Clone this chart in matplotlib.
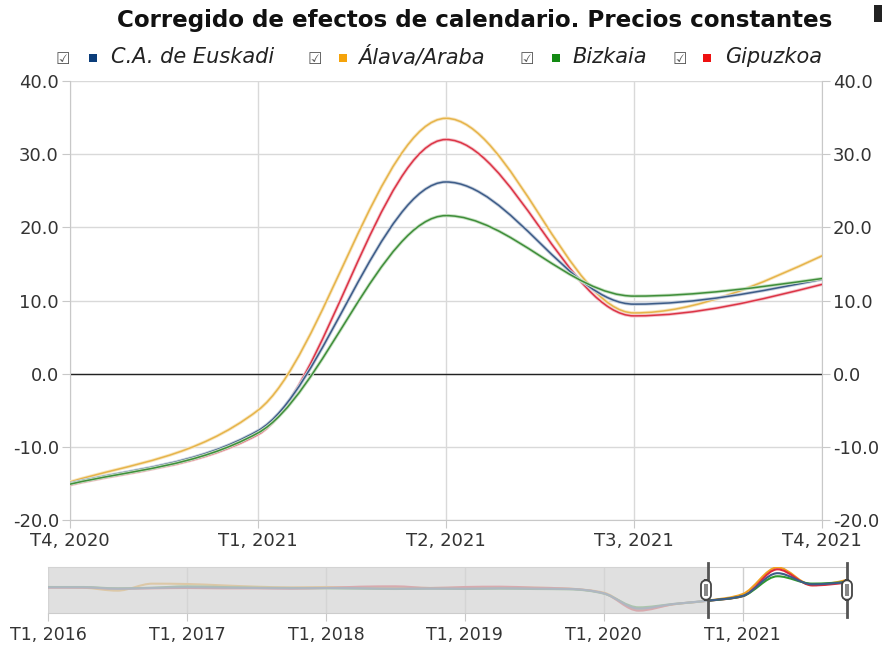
import matplotlib
matplotlib.use("Agg")
import matplotlib.pyplot as plt
from matplotlib.path import Path
from matplotlib.patches import PathPatch, Rectangle, FancyBboxPatch
import matplotlib.patheffects as pe
import numpy as np

plt.rcParams['font.family'] = ['DejaVu Sans']
plt.rcParams['axes.unicode_minus'] = False

# ---------------- data ----------------
quarters = [f"T{q}, {y}" for y in range(2016, 2022) for q in range(1, 5)]
series_names = ["C.A. de Euskadi", "Álava/Araba", "Bizkaia", "Gipuzkoa"]

euskadi = [5.0, 5.0, 3.0, 4.0, 5.0, 4.5, 4.0, 3.5, 4.0, 3.5, 3.0, 3.0,
           3.0, 3.5, 3.0, 2.5, -4.0, -27.0, -20.0, -15.0, -7.8, 26.2, 9.5, 12.9]
alava = [5.5, 4.5, 0.0, 10.5, 10.0, 8.0, 6.0, 5.0, 5.5, 5.0, 5.0, 4.0,
         4.5, 5.0, 4.5, 3.0, -3.0, -28.0, -20.5, -14.8, -5.0, 34.9, 8.3, 16.1]
bizkaia = [5.5, 5.5, 3.5, 4.5, 6.5, 5.5, 4.5, 4.0, 3.5, 3.0, 2.5, 3.0,
           2.5, 3.0, 2.5, 2.0, -4.5, -25.0, -20.0, -15.1, -8.1, 21.6, 10.6, 13.0]
gipuzkoa = [4.5, 4.5, 3.0, 3.5, 4.0, 3.5, 3.5, 3.0, 4.0, 6.0, 6.5, 4.0,
            5.5, 6.0, 4.5, 3.0, -4.0, -30.0, -20.5, -15.2, -8.3, 32.0, 7.9, 12.2]

y_ticks = [-20.0, -10.0, 0.0, 10.0, 20.0, 30.0, 40.0]
main_start, main_end = 19, 23          # T4 2020 .. T4 2021
nav_tick_idx = [0, 4, 8, 12, 16, 20]

legend_colors = ["#0b3d7a", "#f5a30a", "#138a13", "#ee1111"]
line_colors = ["#3d5c88", "#e6b44a", "#3f8e3a", "#dc3446"]
halo_colors = ["#c4cedc", "#f8e6c0", "#c6e0c2", "#f4c4ca"]


def monotone_path(xs, ys):
    """Monotone cubic (d3 curveMonotoneX style) through the points, as a Path."""
    xs = [float(v) for v in xs]
    ys = [float(v) for v in ys]
    n = len(xs)
    sgn = lambda v: -1.0 if v < 0 else 1.0
    m = [0.0] * n
    for i in range(1, n - 1):
        h0 = xs[i] - xs[i - 1]
        h1 = xs[i + 1] - xs[i]
        s0 = (ys[i] - ys[i - 1]) / h0
        s1 = (ys[i + 1] - ys[i]) / h1
        p = (s0 * h1 + s1 * h0) / (h0 + h1)
        m[i] = (sgn(s0) + sgn(s1)) * min(abs(s0), abs(s1), 0.5 * abs(p))
    h = xs[1] - xs[0]
    m[0] = (3 * (ys[1] - ys[0]) / h - m[1]) / 2
    h = xs[-1] - xs[-2]
    m[-1] = (3 * (ys[-1] - ys[-2]) / h - m[-2]) / 2
    verts = [(xs[0], ys[0])]
    codes = [Path.MOVETO]
    for i in range(n - 1):
        dx = (xs[i + 1] - xs[i]) / 3
        verts += [(xs[i] + dx, ys[i] + dx * m[i]),
                  (xs[i + 1] - dx, ys[i + 1] - dx * m[i + 1]),
                  (xs[i + 1], ys[i + 1])]
        codes += [Path.CURVE4] * 3
    return Path(verts, codes)


W, H = 882, 647
fig = plt.figure(figsize=(W / 100, H / 100), dpi=100)

def fx(px):
    return px / W

def fy(py):
    return 1 - py / H

all_series = [euskadi, alava, bizkaia, gipuzkoa]
xs = list(range(len(quarters)))

# ---------------- main chart ----------------
ax = fig.add_axes([fx(70), fy(520), fx(822) - fx(70), fy(81) - fy(520)])
ax.set_xlim(main_start, main_end)
ax.set_ylim(-20, 40)
ax.set_yticks(y_ticks)
ax.set_yticklabels([f"{v:.1f}" for v in y_ticks])
ax.set_xticks(range(main_start, main_end + 1))
ax.set_xticklabels(quarters[main_start:main_end + 1])
ax.grid(True, color="#d9d9d9", linewidth=1)
ax.set_axisbelow(True)
ax.spines["top"].set_visible(False)
for s in ["left", "right", "bottom"]:
    ax.spines[s].set_color("#c8c8c8")
ax.tick_params(axis="y", length=6, color="#c8c8c8", labelsize=13, labelcolor="#333333", pad=2,
               left=True, right=True, labelleft=True, labelright=True)
ax.tick_params(axis="x", length=6, color="#c8c8c8", labelsize=13, labelcolor="#333333", pad=3)
ax.axhline(0, color="#222222", linewidth=1, zorder=2)

draw_order = [1, 3, 0, 2]
for k in draw_order:
    p = PathPatch(monotone_path(xs, all_series[k]), facecolor="none", edgecolor=line_colors[k],
                  linewidth=1.1, zorder=3, capstyle="round", joinstyle="round",
                  path_effects=[pe.Stroke(linewidth=2.4, foreground=halo_colors[k]), pe.Normal()])
    ax.add_patch(p)

# ---------------- navigator ----------------
nav = fig.add_axes([fx(48), fy(613), fx(847) - fx(48), fy(567) - fy(613)])
nav.set_xlim(0, len(quarters) - 1)
nav.set_ylim(-33.5, 35.5)
nav.set_yticks([])
nav.set_xticks(nav_tick_idx)
nav.set_xticklabels([quarters[i] for i in nav_tick_idx])
nav.tick_params(axis="x", length=6, color="#c8c8c8", labelsize=12.5, labelcolor="#333333", pad=3)
nav.grid(True, axis="x", color="#cfcfcf", linewidth=1)
nav.set_axisbelow(True)
for s in ["left", "right"]:
    nav.spines[s].set_visible(False)
for s in ["top", "bottom"]:
    nav.spines[s].set_color("#cccccc")

nav_colors = ["#3d5c88", "#f0a020", "#2f9a2f", "#e02a3a"]
for k in [1, 3, 2, 0]:
    nav.add_patch(PathPatch(monotone_path(xs, all_series[k]), facecolor="none",
                            edgecolor=nav_colors[k], linewidth=1.5, zorder=3))
nav.add_patch(Rectangle((0, -33.5), main_start, 69, facecolor="#d6d6d6", alpha=0.75,
                        edgecolor="none", zorder=4))
for hx in [main_start, main_end]:
    nav.plot([hx, hx], [-39, 41], color="#555555", linewidth=2, zorder=6, clip_on=False)
for hx_px in [706, 847]:
    fig.patches.append(FancyBboxPatch((fx(hx_px - 5), fy(600)), fx(10), fy(580) - fy(600),
                                      boxstyle="round,pad=0,rounding_size=0.008",
                                      transform=fig.transFigure, facecolor="white",
                                      edgecolor="#444444", linewidth=1.3, zorder=10))
    fig.patches.append(Rectangle((fx(hx_px - 1.8), fy(596)), fx(3.6), fy(584) - fy(596),
                                 transform=fig.transFigure, facecolor="#888888",
                                 edgecolor="none", zorder=11))

# ---------------- title & legend ----------------
fig.text(fx(475), fy(20), "Corregido de efectos de calendario. Precios constantes",
         ha="center", va="center", fontsize=16.6, fontweight="bold", color="#111111")
# partially visible element at the top-right edge
fig.patches.append(Rectangle((fx(874), fy(22)), fx(8), fy(5) - fy(22),
                             transform=fig.transFigure, facecolor="#222222", edgecolor="none"))

legend_items = [(63, 93, 111), (315, 343, 358), (527, 556, 572), (680, 707, 725)]
for k, (cbx, sqx, tx) in enumerate(legend_items):
    fig.text(fx(cbx), fy(60), "☑", ha="center", va="center", fontsize=11.5, color="#555555")
    fig.patches.append(Rectangle((fx(sqx - 4), fy(62)), fx(8), fy(54) - fy(62),
                                 transform=fig.transFigure, facecolor=legend_colors[k],
                                 edgecolor="none"))
    fig.text(fx(tx), fy(57), series_names[k], ha="left", va="center", fontsize=15,
             fontstyle="italic", color="#222222")

fig.savefig("out.png", dpi=100)
